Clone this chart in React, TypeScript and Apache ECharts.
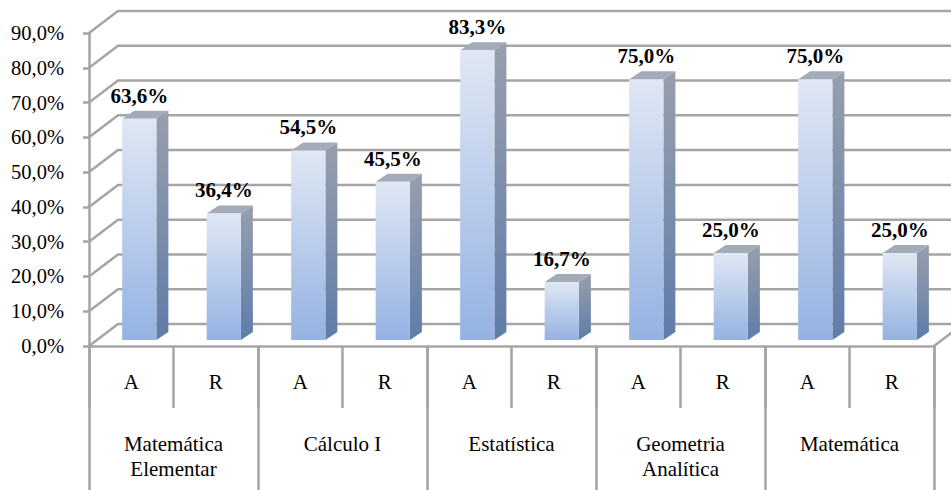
import React, { useEffect, useRef } from "react";
import * as echarts from "echarts";

const groupNames = ["Matemática\nElementar", "Cálculo I", "Estatística", "Geometria\nAnalítica", "Matemática"];
const subCategories = ["A", "R", "A", "R", "A", "R", "A", "R", "A", "R"];
const percentValues = [63.6, 36.4, 54.5, 45.5, 83.3, 16.7, 75.0, 25.0, 75.0, 25.0];
const gridValues = [0, 10, 20, 30, 40, 50, 60, 70, 80, 90];

const SERIF = '"Liberation Serif", "Times New Roman", serif';
const LINE = "#a5a5a5";
const DX = 29, DY = 22;
const fmt = (v: number) => v.toFixed(1).replace(".", ",") + "%";

const vGrad = (a: string, b: string) =>
  new echarts.graphic.LinearGradient(0, 0, 0, 1, [
    { offset: 0, color: a },
    { offset: 1, color: b },
  ]);

export default function App() {
  const ref = useRef<HTMLDivElement>(null);
  useEffect(() => {
    const chart = echarts.init(ref.current!, undefined, { renderer: "svg" });
    chart.setOption({
      animation: false,
      backgroundColor: "#fff",
      grid: { left: 89, right: 17, top: 33, bottom: 144, containLabel: false },
      xAxis: [
        {
          type: "category",
          data: subCategories,
          position: "bottom",
          axisLine: { show: true, lineStyle: { color: LINE, width: 2.5 } },
          axisTick: { show: true, length: 62, interval: 0, lineStyle: { color: LINE, width: 2.5 } },
          axisLabel: {
            interval: 0,
            margin: 25,
            fontFamily: SERIF,
            fontSize: 21,
            color: "#000",
            lineHeight: 21,
          },
        },
        {
          type: "category",
          data: groupNames,
          position: "bottom",
          axisLine: { show: false },
          axisTick: { show: true, length: 144, interval: 0, lineStyle: { color: LINE, width: 2.5 } },
          axisLabel: {
            interval: 0,
            margin: 85,
            fontFamily: SERIF,
            fontSize: 21,
            color: "#000",
            lineHeight: 25,
            verticalAlign: "top",
          },
        },
      ],
      yAxis: {
        type: "value",
        min: 0,
        max: 90,
        interval: 10,
        splitLine: { show: false },
        axisLine: { show: true, lineStyle: { color: LINE, width: 2.5 } },
        axisTick: { show: true, length: 6, lineStyle: { color: LINE, width: 2.5 } },
        axisLabel: {
          margin: 25,
          fontFamily: SERIF,
          fontSize: 20.5,
          color: "#000",
          formatter: (v: number) => fmt(v),
        },
      },
      series: [
        {
          type: "custom",
          name: "grid",
          xAxisIndex: 0,
          silent: true,
          clip: false,
          z: 1,
          data: gridValues.map((v) => [0, v]),
          renderItem: (params: any, api: any) => {
            const y = api.coord([0, api.value(1)])[1];
            const x0 = params.coordSys.x;
            const x1 = x0 + params.coordSys.width;
            const pts = [[x0, y], [x0 + DX, y - DY], [x1 + DX, y - DY]];
            if (api.value(1) === 0) pts.push([x1, y]);
            return {
              type: "polyline",
              shape: { points: pts },
              style: { stroke: LINE, lineWidth: 2.5, fill: "none" },
            };
          },
        },
        {
          type: "custom",
          name: "percent",
          xAxisIndex: 0,
          clip: false,
          z: 3,
          data: percentValues.map((v, i) => [i, v]),
          renderItem: (params: any, api: any) => {
            const value = api.value(1);
            const [cx, y0] = api.coord([api.value(0), 0]);
            const yTop = api.coord([api.value(0), value])[1];
            const band = api.size([1, 0])[0];
            const w = band * 0.405;
            const left = cx + band * 0.095 - w / 2;
            const right = left + w;
            const lift = 6;
            const base = y0 - lift;
            const top = yTop - lift;
            const dx = 12, dy = 8;
            return {
              type: "group",
              children: [
                {
                  type: "polygon",
                  shape: { points: [[right, top], [right + dx, top - dy], [right + dx, base - dy], [right, base]] },
                  style: { fill: vGrad("#989fad", "#5f7ca9") },
                },
                {
                  type: "polygon",
                  shape: { points: [[left, top], [left + dx, top - dy], [right + dx, top - dy], [right, top]] },
                  style: { fill: "#a4abb8" },
                },
                {
                  type: "rect",
                  shape: { x: left, y: top, width: w, height: base - top },
                  style: { fill: vGrad("#e0e7f4", "#94b2e2") },
                },
                {
                  type: "text",
                  style: {
                    x: left + w / 2,
                    y: top - 23,
                    text: fmt(value),
                    font: `bold 21px ${SERIF}`,
                    fill: "#000",
                    textAlign: "center",
                    textVerticalAlign: "middle",
                  },
                },
              ],
            };
          },
        },
      ],
    });
    return () => chart.dispose();
  }, []);
  return (
    <div
      ref={ref}
      style={{ position: "absolute", left: 0, top: 0, width: 951, height: 490, overflow: "hidden" }}
    />
  );
}
